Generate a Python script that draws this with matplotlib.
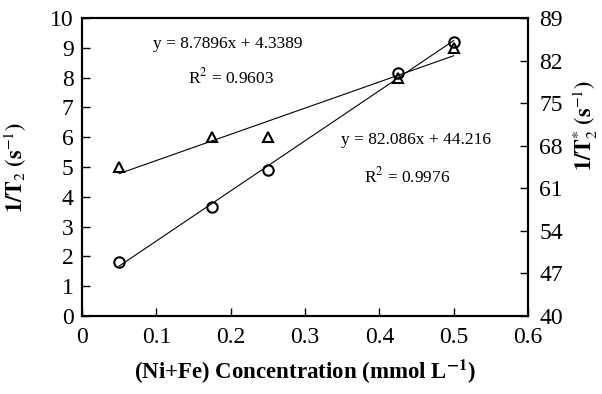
import numpy as np
import matplotlib
matplotlib.use("Agg")
import matplotlib.pyplot as plt

plt.rcParams['font.family'] = ['Liberation Serif', 'DejaVu Serif']
plt.rcParams['mathtext.fontset'] = 'stix'

# data
conc = [0.05, 0.175, 0.25, 0.425, 0.5]
t2_rate = [5.0, 6.0, 6.0, 8.0, 9.0]            # triangles, left axis
t2s_rate = [48.9, 57.9, 64.0, 79.9, 85.1]      # circles, right axis

left_ticks = list(range(0, 11))
right_ticks = [40, 47, 54, 61, 68, 75, 82, 89]
x_ticks = [0, 0.1, 0.2, 0.3, 0.4, 0.5, 0.6]

fig = plt.figure(figsize=(6.02, 3.94), dpi=100)
ax1 = fig.add_axes([82/602, 78/394, 446/602, 298/394])
ax2 = ax1.twinx()

# linear fits
k1, b1 = np.polyfit(conc, t2_rate, 1)
k2, b2 = np.polyfit(conc, t2s_rate, 1)
xs = np.array([conc[0], conc[-1]])

ax1.plot(conc, t2_rate, linestyle='none', marker='^', markersize=7.5,
         markerfacecolor='none', markeredgecolor='black', markeredgewidth=1.5)
ax1.plot(xs, k1 * xs + b1, color='black', linewidth=0.8)
ax2.plot(conc, t2s_rate, linestyle='none', marker='o', markersize=7.5,
         markerfacecolor='none', markeredgecolor='black', markeredgewidth=1.5)
ax2.plot(xs, k2 * xs + b2, color='black', linewidth=0.8)

ax1.set_xlim(0, 0.6)
ax1.set_ylim(0, 10)
ax2.set_ylim(40, 89)
ax1.set_xticks(x_ticks)
ax1.set_xticklabels([f"{v:g}" for v in x_ticks])
ax1.set_yticks(left_ticks)
ax2.set_yticks(right_ticks)

for ax in (ax1, ax2):
    for s in ax.spines.values():
        s.set_linewidth(1.5)
ax1.tick_params(axis='x', direction='in', length=6, width=1, pad=8, labelsize=17)
ax1.tick_params(axis='y', direction='in', length=6, width=1, pad=6, labelsize=17)
ax2.tick_params(axis='y', direction='in', length=6, width=1, pad=8, labelsize=17)

ax1.set_xlabel(r'(Ni+Fe) Concentration (mmol L$^{\mathbf{-1}}$)',
               fontsize=16.5, fontweight='bold')
ax1.xaxis.set_label_coords(0.5, -0.14)
ax1.set_ylabel(r'$\mathbf{1/T}_{2}$ $\mathbf{(s}^{-1}\mathbf{)}$', fontsize=16)
ax1.yaxis.set_label_coords(-0.118, 0.5)
ax2.set_ylabel(r'$\mathbf{1/T}_{2}^{*}$ $\mathbf{(s}^{-1}\mathbf{)}$', fontsize=16,
               rotation=90)
ax2.yaxis.set_label_coords(1.098, 0.64)

ax1.text(0.16, 0.912, f"y = {k1:.4f}x + {b1:.4f}", transform=ax1.transAxes,
         fontsize=12.5, ha='left', va='center')
ax1.text(0.335, 0.80, r"R$^2$ = 0.9603", transform=ax1.transAxes,
         fontsize=12.5, ha='center', va='center')
ax1.text(0.58, 0.59, "y = 82.086x + 44.216", transform=ax1.transAxes,
         fontsize=12.5, ha='left', va='center')
ax1.text(0.73, 0.47, r"R$^2$ = 0.9976", transform=ax1.transAxes,
         fontsize=12.5, ha='center', va='center')

fig.savefig("out.png", dpi=100)
